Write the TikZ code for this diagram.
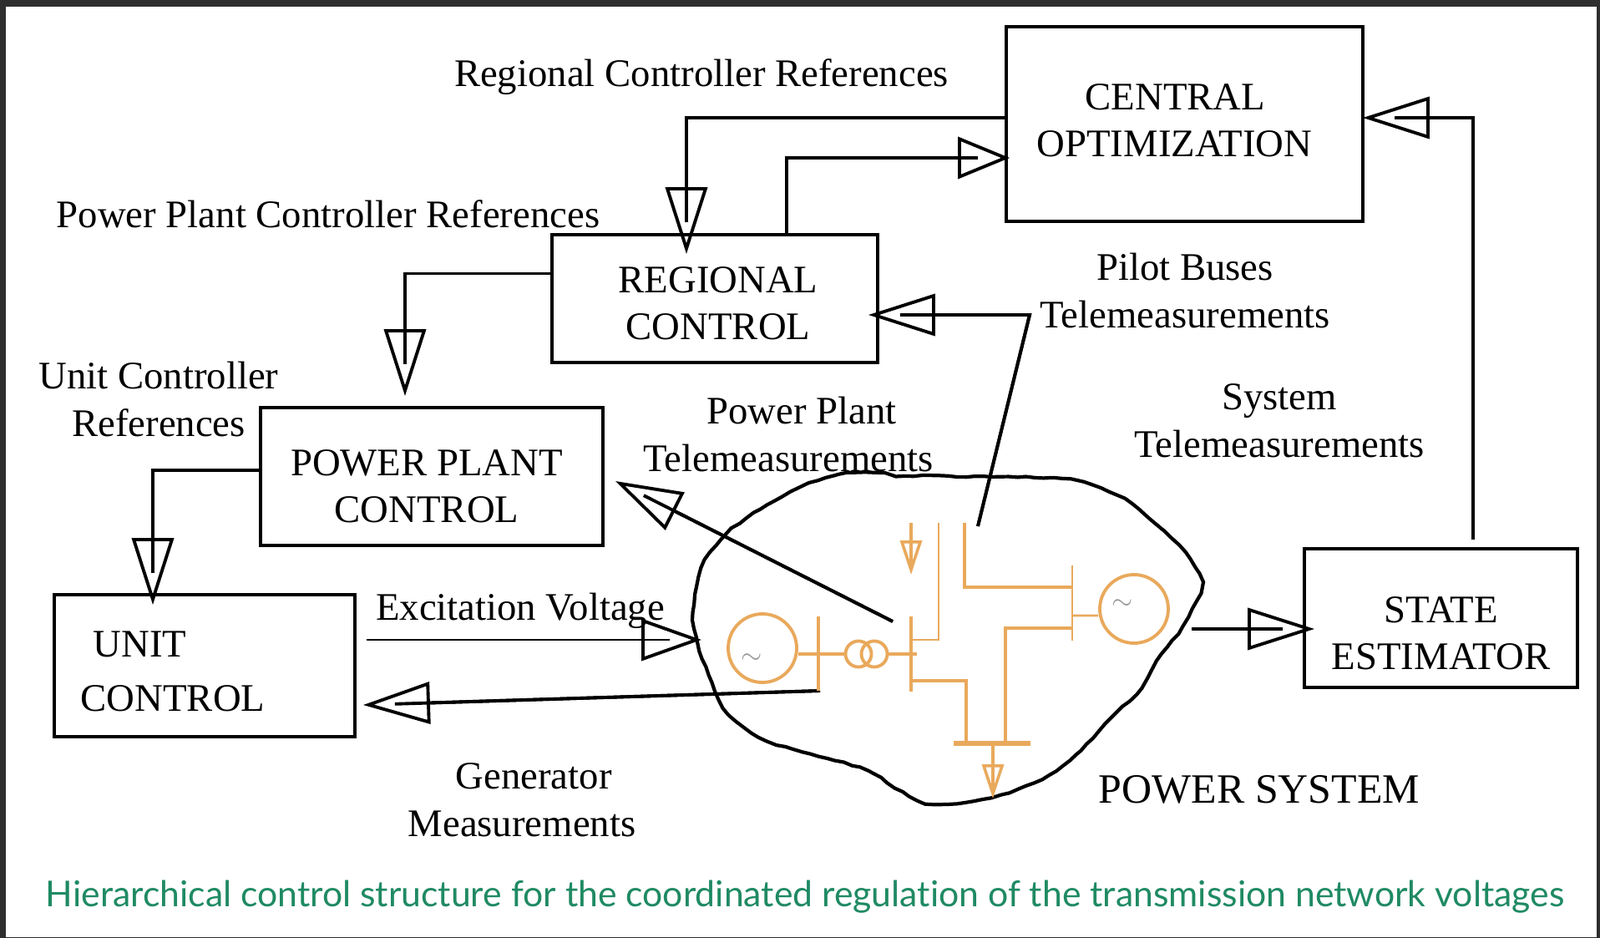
\documentclass[tikz,border=0pt]{standalone}
\usepackage{fontspec}
\setmainfont{Liberation Serif}
\newfontfamily\capfont[Ligatures=NoCommon]{Lato}
\usetikzlibrary{arrows.meta}
\usetikzlibrary{decorations.pathmorphing}
\definecolor{netorange}{HTML}{E9A95C}
\definecolor{capgreen}{HTML}{1F8A63}
\tikzset{
	ctrlbox/.style={draw, line width=1.1pt, inner sep=0pt},
	boxtext/.style={inner sep=0pt, align=center, font=\fontsize{13.3}{15.9}\selectfont},
	lbl/.style={inner sep=0pt, align=center, font=\fontsize{13.3}{16.2}\selectfont},
	conn/.style={line width=1.1pt, shorten >=0.38cm, postaction={draw, shorten >=0pt, -{Triangle[open, length=#1, width=0.5cm, line width=1.1pt]}}},
	conn/.default=0.8cm,
	net/.style={netorange, line width=1.1pt},
	netgen/.style={draw=netorange, circle, line width=1.1pt, inner sep=0pt, minimum size=0.82cm},
	netxf/.style={draw=netorange, circle, line width=1.1pt, inner sep=0pt, minimum size=0.31cm},
	netload/.style={net, shorten >=0.1cm, postaction={draw, shorten >=0pt, -{Triangle[open, length=0.41cm, width=0.26cm, line width=1pt]}}},
	tildemark/.style={inner sep=0pt, text=gray!80, font=\fontsize{9}{9}\selectfont},
	outline/.style={line width=1.2pt, decorate, decoration={random steps, segment length=3pt, amplitude=0.25pt}}
}

\begin{document}
\begin{tikzpicture}
	\useasboundingbox (0, 0) rectangle (19.16, 11.22);
	%frame
	\shade[left color=black!82, middle color=black!70, right color=black!82] (0, 0) rectangle (19.16, 11.22);
	\fill[white] (0.07, 0) rectangle (19.12, 11.14);
	%power system outline
	\draw[outline] plot[smooth cycle, tension=0.5] coordinates {
		(10.73, 5.53) (11.87, 5.51) (12.61, 5.50) (12.98, 5.45) (13.47, 5.25)
		(13.79, 4.99) (14.12, 4.69) (14.36, 4.35) (14.36, 4.12) (14.16, 3.72)
		(13.91, 3.39) (13.67, 2.99) (13.30, 2.62) (12.89, 2.19) (12.48, 1.89)
		(11.87, 1.67) (11.18, 1.59) (10.81, 1.74) (10.40, 1.99) (9.91, 2.14)
		(9.18, 2.35) (8.81, 2.59) (8.61, 2.85) (8.36, 3.49) (8.30, 3.89)
		(8.40, 4.42) (8.69, 4.82) (9.10, 5.12) (9.59, 5.39) (10.04, 5.54) (10.49, 5.56)};
	%boxes
	\node[ctrlbox, minimum width=4.27cm, minimum height=2.33cm, label={[boxtext, align=left, xshift=-0.12cm, yshift=0.04cm]center:\hspace*{0.58cm}CENTRAL\\OPTIMIZATION}] (central) at (14.185, 9.735) {};
	\node[ctrlbox, minimum width=3.9cm, minimum height=1.53cm, label={[boxtext, xshift=0.04cm, yshift=-0.06cm]center:REGIONAL\\CONTROL}] (regional) at (8.56, 7.645) {};
	\node[ctrlbox, minimum width=4.1cm, minimum height=1.65cm, label={[boxtext, xshift=-0.06cm, yshift=-0.115cm]center:POWER PLANT\\CONTROL}] (plant) at (5.17, 5.515) {};
	\node[ctrlbox, minimum width=3.6cm, minimum height=1.7cm, label={[boxtext, align=left, xshift=-0.38cm, yshift=-0.07cm]center:\hspace*{0.15cm}UNIT\\[0.09cm]CONTROL}] (unit) at (2.45, 3.25) {};
	\node[ctrlbox, minimum width=3.27cm, minimum height=1.66cm, label={[boxtext, yshift=-0.18cm]center:STATE\\ESTIMATOR}] (state) at (17.255, 3.82) {};
	%labels
	\node[lbl] (regionalrefs) at (8.40, 10.30) {Regional Controller References};
	\node[lbl] (plantrefs) at (3.93, 8.66) {Power Plant Controller References};
	\node[lbl] (unitrefs) at (1.90, 6.44) {Unit Controller\\References};
	\node[lbl] (pilotlbl) at (14.19, 7.74) {Pilot Buses\\Telemeasurements};
	\node[lbl] (systemlbl) at (15.32, 6.18) {System\\Telemeasurements};
	\node[lbl, align=left] (plantlbl) at (9.44, 6.02) {\hspace*{0.76cm}Power Plant\\Telemeasurements};
	\node[lbl] (excitlbl) at (6.23, 3.91) {Excitation Voltage};
	\node[lbl, align=left] (genlbl) at (6.25, 1.64) {\hspace*{0.57cm}Generator\\Measurements};
	\node[lbl, font=\fontsize{14.2}{16}\selectfont] (pslbl) at (15.08, 1.77) {POWER SYSTEM};
	\node[inner sep=0pt, text=capgreen, font=\capfont\fontsize{12.15}{14}\selectfont] (caption) at (9.64, 0.485) {Hierarchical control structure for the coordinated regulation of the transmission network voltages};
	%free ends
	\coordinate (pilotbus) at (11.71, 4.92);
	\coordinate (pilotbend) at (12.33, 7.45);
	\coordinate (pptele) at (10.69, 3.78);
	\coordinate (psin) at (8.40, 3.56);
	\coordinate (genbus) at (9.82, 2.95);
	\coordinate (psout) at (14.27, 3.69);
	%connectors
	\draw[conn] ([yshift=0.075cm]central.west) -| ([xshift=-0.34cm, yshift=-0.25cm]regional.north);
	\draw[conn=0.62cm] ([xshift=0.86cm]regional.north) |- ([xshift=0.06cm, yshift=-0.405cm]central.west);
	\draw[conn] (pilotbus) -- (pilotbend) -- ([xshift=-0.13cm, yshift=-0.195cm]regional.east);
	\draw[conn] ([yshift=0.3cm]regional.west) -| ([xshift=-0.32cm, yshift=0.12cm]plant.north);
	\draw[conn] ([yshift=0.075cm]plant.west) -| ([xshift=-0.62cm, yshift=-0.14cm]unit.north);
	\draw[conn] (pptele) -- ([xshift=0.13cm, yshift=-0.055cm]plant.east);
	\draw[conn=0.72cm, line width=0.85pt] ([xshift=0.12cm, yshift=0.31cm]unit.east) -- (psin);
	\draw[conn] (genbus) -- ([xshift=0.08cm, yshift=-0.47cm]unit.east);
	\draw[conn] (psout) -- ([xshift=0.14cm, yshift=-0.13cm]state.west);
	\draw[conn] ([xshift=0.385cm, yshift=0.09cm]state.north) |- ([xshift=-0.02cm, yshift=0.075cm]central.east);
	%network
	\node[netgen] (genleft) at (9.13, 3.46) {};
	\node[netgen] (genright) at (13.58, 3.93) {};
	\node[netxf] (xfleft) at (10.28, 3.39) {};
	\node[netxf] (xfright) at (10.47, 3.39) {};
	\node[tildemark] (tildeleft) at (9.00, 3.33) {$\sim$};
	\node[tildemark] (tilderight) at (13.44, 3.98) {$\sim$};
	\draw[net] (9.80, 3.84) -- (9.80, 2.95);
	\draw[net] ([yshift=-0.07cm]genleft.east) -- (xfleft.west);
	\draw[net] (xfright.east) -- (10.98, 3.39);
	\draw[net] (10.91, 3.84) -- (10.91, 2.94);
	\draw[net, line width=0.8pt] (10.91, 3.56) -- (11.24, 3.56) -- (11.24, 4.96);
	\draw[net] (11.55, 4.96) -- (11.55, 4.19) -- (12.84, 4.19);
	\draw[net, line width=0.8pt] (12.84, 4.45) -- (12.84, 3.55);
	\draw[net, line width=0.8pt] (12.84, 3.85) -- ([yshift=-0.08cm]genright.west);
	\draw[net] (12.84, 3.70) -- (12.04, 3.70) -- (12.04, 2.32);
	\draw[net] (10.91, 3.07) -- (11.57, 3.07) -- (11.57, 2.32);
	\draw[net, line width=1.6pt] (11.42, 2.32) -- (12.34, 2.32);
	\draw[netload] (11.89, 2.32) -- (11.89, 1.66);
	\draw[netload] (10.91, 4.96) -- (10.91, 4.34);
\end{tikzpicture}
\end{document}
